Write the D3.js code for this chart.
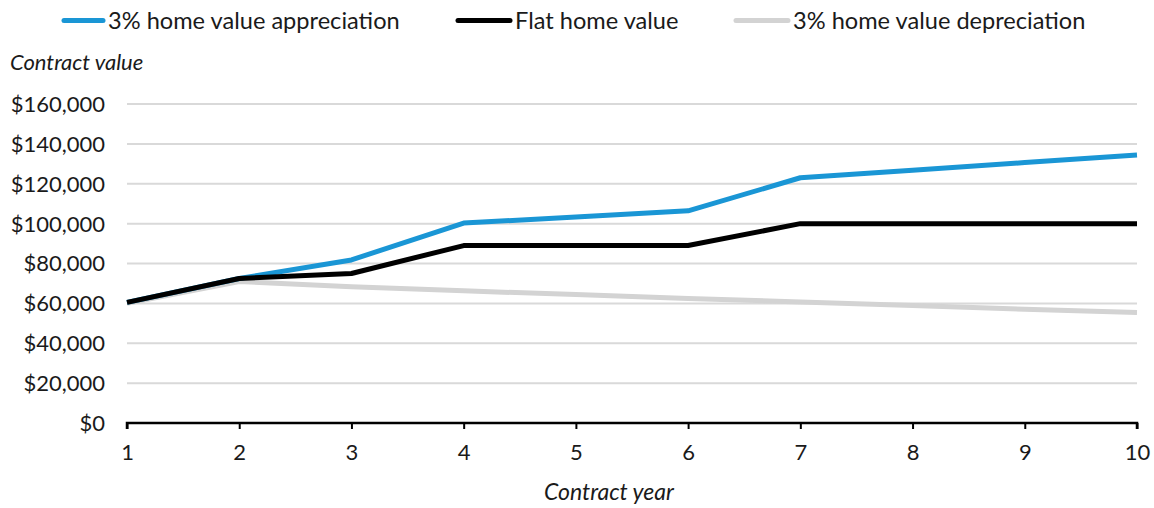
<!DOCTYPE html>
<html>
<head>
<meta charset="utf-8">
<script src="https://cdn.jsdelivr.net/npm/d3@7"></script>
<style>
  body { margin: 0; background: #fff; }
  svg { display: block; font-family: Lato, "Open Sans", sans-serif; }
</style>
</head>
<body>
<svg id="chart" width="1154" height="508"></svg>
<script>
const years = [1, 2, 3, 4, 5, 6, 7, 8, 9, 10];
const appreciation = [60500, 72500, 81800, 100300, 103300, 106400, 123000, 126800, 130600, 134400];
const flat = [60500, 72500, 75000, 89000, 89000, 89000, 100000, 100000, 100000, 100000];
const depreciation = [60000, 71000, 68300, 66300, 64400, 62500, 60700, 58900, 57100, 55400];
const yTicks = [0, 20000, 40000, 60000, 80000, 100000, 120000, 140000, 160000];
const seriesNames = ["3% home value appreciation", "Flat home value", "3% home value depreciation"];
const seriesColors = ["#1a96d5", "#000000", "#d3d3d3"];

const svg = d3.select("#chart");
const x = d3.scaleLinear().domain([1, 10]).range([127, 1137]);
const y = d3.scaleLinear().domain([0, 160000]).range([423, 104]);

// gridlines
svg.append("g")
  .selectAll("line")
  .data(yTicks.filter(d => d > 0))
  .join("line")
  .attr("x1", x(1)).attr("x2", x(10))
  .attr("y1", d => y(d)).attr("y2", d => y(d))
  .attr("stroke", "#d9d9d9").attr("stroke-width", 2);

// y axis labels
const fmt = d => "$" + d3.format(",")(d);
svg.append("g")
  .selectAll("text")
  .data(yTicks)
  .join("text")
  .attr("x", 105)
  .attr("y", d => y(d))
  .attr("dy", "0.36em")
  .attr("text-anchor", "end")
  .attr("font-size", 22)
  .attr("fill", "#1a1a1a")
  .text(fmt);

// x axis
const xAxis = d3.axisBottom(x).tickValues(years).tickFormat(d3.format("d")).tickSize(6).tickPadding(15);
const gx = svg.append("g").attr("transform", `translate(0,${y(0)})`).call(xAxis);
gx.select(".domain").attr("stroke", "#000").attr("stroke-width", 2.5).attr("d", `M${x(1)},6V0H${x(10)}V6`);
gx.selectAll(".tick line").attr("stroke", "#000").attr("stroke-width", 2);
gx.selectAll(".tick text").attr("font-size", 22).attr("font-family", "Lato, sans-serif").attr("fill", "#1a1a1a");

// lines
const line = d3.line().x((d, i) => x(years[i])).y(d => y(d));
const order = [[depreciation, 2], [appreciation, 0], [flat, 1]];
order.forEach(([vals, ci]) => {
  svg.append("path")
    .datum(vals)
    .attr("d", line)
    .attr("fill", "none")
    .attr("stroke", seriesColors[ci])
    .attr("stroke-width", 5)
    .attr("stroke-linejoin", "round");
});

// legend
const legendPos = [{sx: 64, ex: 103, tx: 108}, {sx: 458, ex: 510, tx: 515}, {sx: 736, ex: 788, tx: 793}];
seriesNames.forEach((name, i) => {
  const p = legendPos[i];
  svg.append("line")
    .attr("x1", p.sx).attr("x2", p.ex).attr("y1", 20.5).attr("y2", 20.5)
    .attr("stroke", seriesColors[i]).attr("stroke-width", 5).attr("stroke-linecap", "round");
  svg.append("text")
    .attr("x", p.tx).attr("y", 21).attr("dy", "0.36em")
    .attr("font-size", 23.6).attr("fill", "#1a1a1a")
    .text(name);
});

// axis titles
svg.append("text").attr("x", 10).attr("y", 62).attr("dy", "0.36em")
  .attr("font-size", 22).attr("font-style", "italic").attr("fill", "#1a1a1a")
  .text("Contract value");
svg.append("text").attr("x", 609).attr("y", 492).attr("dy", "0.36em")
  .attr("text-anchor", "middle")
  .attr("font-size", 23).attr("font-style", "italic").attr("fill", "#1a1a1a")
  .text("Contract year");
</script>
</body>
</html>
